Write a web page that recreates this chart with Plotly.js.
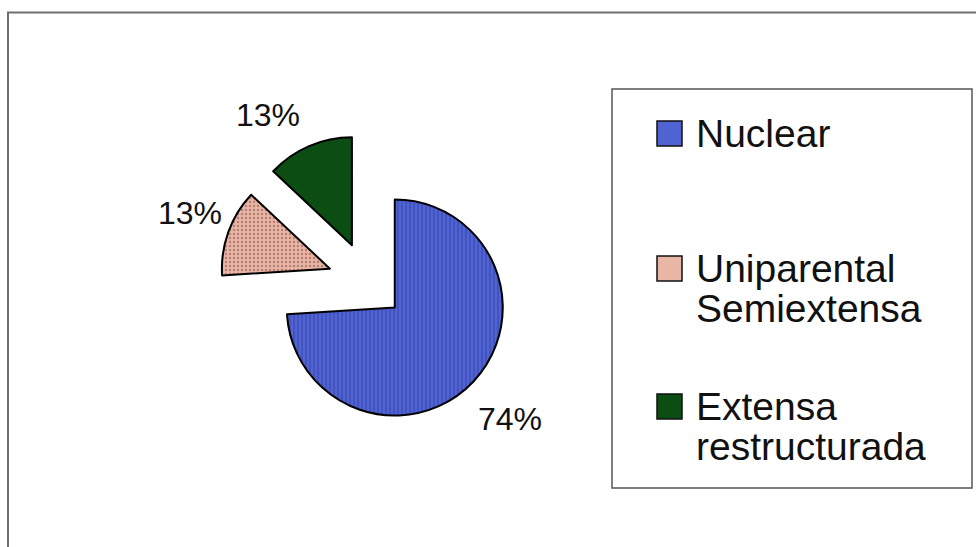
<!DOCTYPE html>
<html>
<head>
<meta charset="utf-8">
<script src="https://cdn.plot.ly/plotly-3.0.1.min.js"></script>
<style>
  html, body { margin: 0; padding: 0; background: #ffffff; }
  #chart { width: 976px; height: 547px; }
</style>
</head>
<body>
<div id="chart"></div>
<script>
// Tipo de familia: composición porcentual
const categories = ['Nuclear', 'Uniparental<br>Semiextensa', 'Extensa<br>restructurada'];
const values = [74, 13, 13];
const sliceColors = ['#5063d2', '#e9b6a6', '#0c4d14'];
const patternFg = ['#24318f', '#7f4a40', '#0c4d14'];
const patternShapes = ['|', '.', ''];
const pulls = [0.34, 0.375, 0.375];

const W = 976, H = 547;
const px = x => x / W;
const py = y => 1 - y / H;

const FONT = 'Liberation Sans, Arial, Helvetica, sans-serif';

const pie = {
  type: 'pie',
  labels: categories,
  values: values,
  sort: false,
  direction: 'clockwise',
  rotation: 0,
  pull: pulls,
  textinfo: 'none',
  marker: {
    colors: sliceColors,
    line: { color: '#000000', width: 2 },
    pattern: {
      shape: patternShapes,
      fgcolor: patternFg,
      bgcolor: sliceColors,
      size: 4,
      solidity: 0.3,
      fillmode: 'overlay'
    }
  },
  domain: { x: [px(368 - 148.5), px(368 + 148.5)], y: [py(282.4 + 148.5), py(282.4 - 148.5)] },
  showlegend: false,
  hoverinfo: 'label+percent'
};

const annotations = [];

// Percentage labels next to each slice, computed from the values
const total = values.reduce((a, b) => a + b, 0);
const pctAnchors = [[510, 419], [190, 213], [268, 115]];
values.forEach((v, i) => {
  annotations.push({
    xref: 'paper', yref: 'paper', x: px(pctAnchors[i][0]), y: py(pctAnchors[i][1]),
    xanchor: 'center', yanchor: 'middle', showarrow: false, borderpad: 0,
    text: Math.round(v / total * 100) + '%',
    font: { family: FONT, size: 32, color: '#111111' }
  });
});

// Legend panel built from the category names and colours
const legendFont = 39;
const firstBaselines = [147, 282, 420];
const lineStep = 40;
const shapes = [
  // outer frame
  { type: 'rect', xref: 'paper', yref: 'paper', x0: px(8), y0: py(12.5), x1: px(1010), y1: py(600),
    line: { color: '#6e6e6e', width: 2 }, fillcolor: 'rgba(0,0,0,0)' },
  // legend box
  { type: 'rect', xref: 'paper', yref: 'paper', x0: px(612), y0: py(89), x1: px(972), y1: py(488),
    line: { color: '#555555', width: 1.5 }, fillcolor: 'rgba(0,0,0,0)' }
];

categories.forEach((name, i) => {
  const base = firstBaselines[i];
  shapes.push({
    type: 'rect', xref: 'paper', yref: 'paper',
    x0: px(657), x1: px(682), y0: py(base - 1), y1: py(base - 26),
    fillcolor: sliceColors[i], line: { color: '#111111', width: 1.5 }
  });
  name.split('<br>').forEach((line, k) => {
    const b = base + k * lineStep;
    annotations.push({
      xref: 'paper', yref: 'paper', x: px(695), y: py(b - 0.3465 * legendFont),
      xanchor: 'left', yanchor: 'middle', showarrow: false, borderpad: 0,
      text: line, font: { family: FONT, size: legendFont, color: '#111111' }
    });
  });
});

const layout = {
  width: W, height: H, autosize: false,
  margin: { l: 0, r: 0, t: 0, b: 0 },
  paper_bgcolor: '#ffffff',
  showlegend: false,
  shapes: shapes,
  annotations: annotations
};

Plotly.newPlot('chart', [pie], layout, { displayModeBar: false, staticPlot: true });
</script>
</body>
</html>
